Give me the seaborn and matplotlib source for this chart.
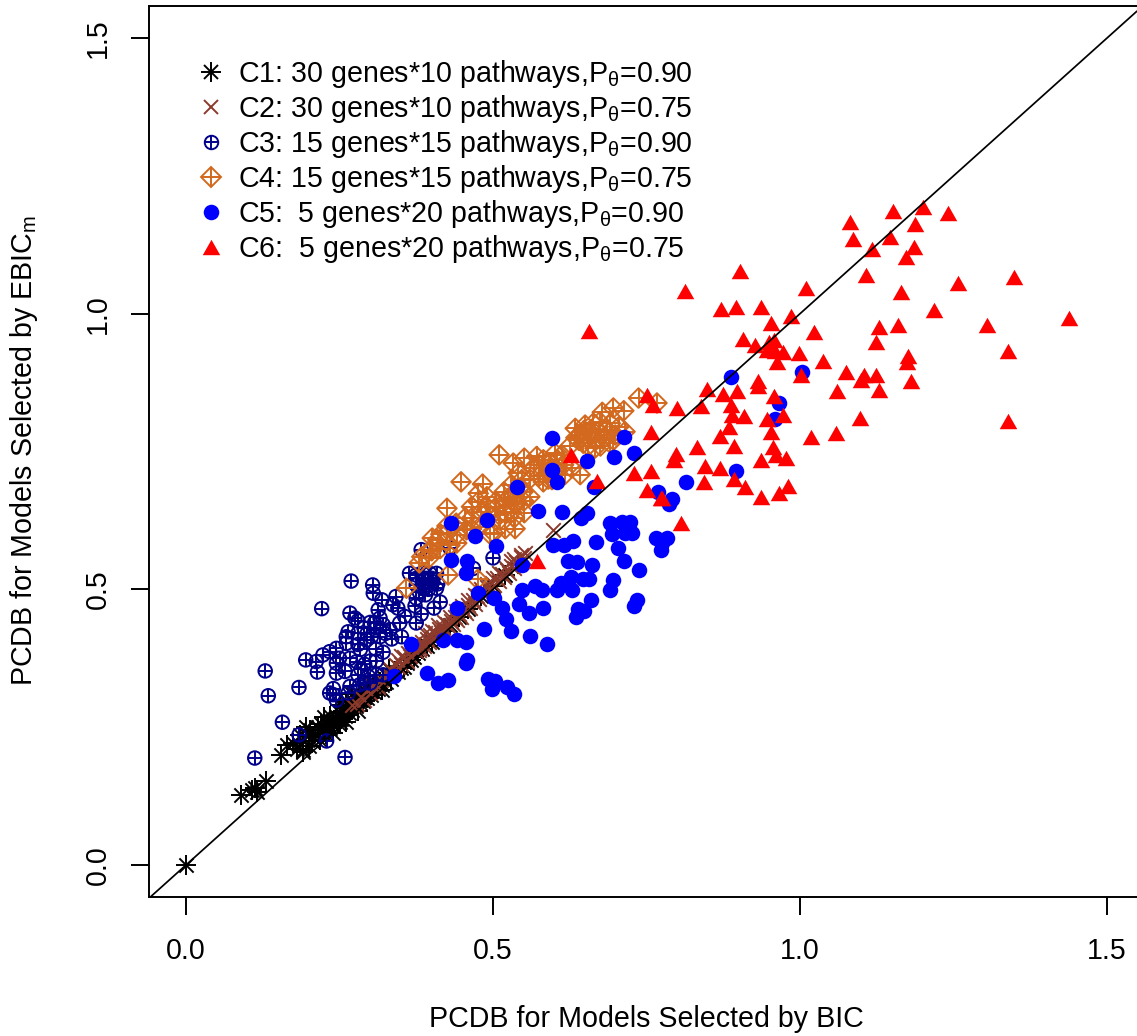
import matplotlib
matplotlib.use("Agg")
import matplotlib.pyplot as plt
import seaborn as sns
import pandas as pd
from matplotlib.lines import Line2D
from matplotlib.path import Path
from matplotlib.legend_handler import HandlerTuple

c1_points = [(0.0,0.0),(.090,.127),(.107,.136),(.115,.132),(.112,.139),(.131,.153),(.155,.200),(.164,.218),(.175,.221),(.191,.209),
(.195,.251),(.186,.236),(.207,.233),(.202,.245),(.218,.227),(.215,.251),(.224,.269),(.21,.24),(.19,.225),(.18,.21),
(.225,.245),(.228,.238),(.232,.255),(.235,.248),(.238,.262),(.241,.252),(.244,.268),(.247,.258),(.250,.275),(.253,.265),
(.256,.280),(.259,.270),(.262,.285),(.265,.275),(.268,.290),(.271,.282),(.274,.296),(.277,.288),(.280,.302),(.283,.293),
(.286,.306),(.289,.298),(.292,.312),(.295,.303),(.298,.316),(.301,.308),(.304,.322),(.307,.314),(.310,.328),(.313,.320),
(.316,.332),(.319,.326),(.322,.340),(.326,.332),(.330,.345),(.334,.338),(.340,.352),(.345,.350),(.350,.358),(.355,.360),
(.360,.366),(.366,.371),(.372,.378),(.378,.384),(.385,.392),(.392,.397),(.400,.405),(.410,.415),(.420,.425),(.430,.435),
(.445,.450),(.460,.465),(.480,.488),(.500,.506),(.520,.526),(.540,.546),(.25,.29),(.27,.31),(.235,.27),(.25,.26),
(.26,.295),(.28,.28),(.29,.315),(.30,.33),(.32,.318),(.33,.355),(.24,.24),(.26,.26),(.22,.255),(.205,.225),(.20,.215),(.19,.205)]

c2_points = [(.270,.290),(.278,.292),(.285,.305),(.290,.300),(.295,.318),(.300,.312),(.305,.325),(.312,.322),(.318,.335),(.322,.348),
(.328,.342),(.332,.355),(.337,.350),(.342,.362),(.345,.372),(.350,.365),(.355,.378),(.358,.372),(.362,.385),(.365,.380),
(.370,.392),(.374,.388),(.378,.400),(.381,.393),(.385,.405),(.388,.398),(.392,.410),(.395,.405),(.398,.418),(.402,.412),
(.405,.422),(.408,.416),(.412,.428),(.415,.422),(.418,.432),(.421,.427),(.425,.438),(.428,.432),(.432,.442),(.435,.437),
(.438,.450),(.441,.445),(.445,.456),(.448,.450),(.452,.462),(.456,.458),(.460,.472),(.463,.466),(.467,.480),(.470,.474),
(.474,.488),(.478,.482),(.482,.495),(.486,.490),(.490,.504),(.494,.499),(.498,.512),(.502,.508),(.506,.520),(.510,.515),
(.514,.528),(.518,.522),(.522,.535),(.526,.530),(.530,.543),(.534,.538),(.538,.550),(.542,.546),(.546,.558),(.551,.556),
(.53,.552),(.545,.562),(.552,.566),(.597,.608),(.33,.345),(.345,.36),(.36,.37),(.38,.39),(.40,.425),(.42,.44),
(.44,.46),(.46,.48),(.48,.50),(.50,.52),(.52,.54),(.535,.555),(.35,.38),(.37,.40),(.39,.42),(.41,.435),
(.43,.45),(.45,.47),(.47,.49),(.49,.51),(.51,.53)]

c3_points = [(.112,.194),(.259,.195),(.229,.225),(.184,.236),(.157,.259),(.134,.307),(.184,.322),(.129,.352),(.195,.372),(.214,.350),
(.212,.369),(.223,.381),(.234,.387),(.221,.465),(.269,.515),(.304,.508),(.305,.493),(.319,.481),(.342,.487),(.337,.472),
(.345,.466),(.373,.470),(.375,.484),(.414,.477),(.404,.466),(.383,.455),(.313,.463),(.267,.457),(.275,.448),(.280,.443),
(.356,.451),(.348,.439),(.375,.439),(.316,.448),(.307,.439),(.321,.436),(.332,.427),(.264,.423),(.261,.414),(.261,.402),
(.294,.408),(.302,.414),(.316,.414),(.351,.414),(.245,.393),(.284,.391),(.309,.392),(.321,.386),(.250,.375),(.267,.375),
(.245,.366),(.278,.369),(.291,.364),(.245,.348),(.259,.351),(.297,.342),(.310,.345),(.267,.324),(.283,.327),(.264,.312),
(.240,.309),(.245,.299),(.234,.312),(.321,.345),(.375,.526),(.397,.529),(.408,.529),(.383,.572),(.386,.517),(.397,.508),
(.408,.502),(.386,.502),(.375,.508),(.500,.557),(.468,.538),(.430,.575),(.402,.514),(.364,.529),(.28,.42),(.29,.43),
(.30,.44),(.31,.43),(.295,.42),(.325,.42),(.335,.41),(.28,.40),(.285,.355),(.30,.37),(.31,.37),(.28,.345),
(.29,.33),(.30,.33),(.24,.32),(.385,.51),(.39,.52),(.395,.50),(.38,.495),(.39,.49),(.40,.52),(.41,.51),
(.375,.52),(.385,.53)]

c4_points = [(.737,.847),(.767,.838),(.678,.821),(.696,.829),(.713,.824),(.634,.792),(.650,.798),(.663,.801),(.674,.804),(.691,.801),
(.642,.780),(.658,.783),(.672,.786),(.685,.789),(.699,.780),(.715,.786),(.647,.765),(.666,.756),(.691,.765),(.696,.771),
(.642,.708),(.510,.744),(.533,.729),(.551,.738),(.571,.741),(.566,.721),(.582,.735),(.601,.747),(.612,.744),(.593,.729),
(.615,.726),(.628,.720),(.617,.708),(.582,.695),(.596,.699),(.541,.711),(.547,.699),(.448,.695),(.483,.691),(.476,.674),
(.490,.668),(.476,.659),(.518,.677),(.533,.668),(.549,.677),(.560,.668),(.539,.656),(.525,.665),(.425,.647),(.503,.647),
(.520,.638),(.551,.639),(.465,.629),(.495,.632),(.511,.626),(.536,.610),(.479,.614),(.501,.602),(.457,.608),(.441,.599),
(.425,.602),(.401,.593),(.441,.584),(.414,.574),(.397,.571),(.384,.559),(.380,.548),(.395,.556),(.427,.526),(.475,.518),
(.359,.502),(.640,.770),(.655,.775),(.667,.770),(.680,.775),(.690,.785),(.705,.795),(.660,.790),(.648,.788),(.635,.775),
(.625,.760),(.655,.760),(.675,.760),(.605,.735),(.590,.715),(.605,.715),(.575,.725),(.560,.700),(.545,.685),(.530,.690),
(.520,.660),(.535,.655),(.505,.660),(.490,.650),(.510,.635),(.530,.640),(.480,.640),(.465,.650),(.455,.630),(.440,.620),
(.425,.615),(.410,.590),(.430,.580),(.400,.570),(.415,.600),(.465,.610),(.495,.600),(.520,.610),(.535,.630),(.550,.660),
(.600,.710),(.590,.700),(.575,.705)]

c5_points = [(.596,.774),(.713,.777),(.729,.747),(.697,.740),(.653,.732),(.596,.717),(.604,.695),(.665,.686),(.815,.695),(.769,.677),
(.792,.663),(.786,.655),(.539,.686),(.574,.643),(.612,.640),(.653,.639),(.644,.630),(.490,.625),(.431,.620),(.470,.597),
(.505,.578),(.431,.553),(.458,.552),(.456,.529),(.476,.494),(.441,.467),(.366,.401),(.339,.342),(.548,.544),(.598,.581),
(.615,.581),(.630,.588),(.667,.585),(.691,.620),(.710,.623),(.723,.623),(.693,.601),(.715,.602),(.726,.602),(.704,.575),
(.765,.594),(.784,.594),(.775,.584),(.774,.571),(.713,.552),(.737,.535),(.622,.552),(.637,.549),(.662,.544),(.627,.523),
(.611,.511),(.647,.518),(.657,.519),(.604,.499),(.629,.499),(.568,.506),(.580,.499),(.548,.498),(.695,.517),(.691,.499),
(.502,.485),(.515,.467),(.542,.473),(.582,.467),(.659,.481),(.734,.481),(.729,.470),(.558,.457),(.639,.464),(.648,.460),
(.635,.449),(.521,.446),(.530,.424),(.486,.428),(.560,.416),(.588,.400),(.419,.408),(.442,.409),(.456,.404),(.458,.372),
(.456,.367),(.392,.349),(.411,.331),(.427,.336),(.492,.337),(.503,.333),(.499,.319),(.522,.322),(.534,.311),(.887,.886),
(1.004,.895),(.965,.838),(.960,.809),(.896,.714)]

c6_points = [(1.151,1.187),(1.200,1.193),(1.241,1.183),(1.081,1.166),(1.188,1.163),(1.086,1.136),(1.146,1.139),(1.117,1.117),(1.186,1.121),(1.172,1.102),
(1.107,1.071),(.903,1.078),(1.349,1.066),(1.258,1.056),(1.010,1.046),(.812,1.042),(1.165,1.039),(.871,1.008),(.896,1.013),(.936,1.012),
(1.219,1.006),(.985,.996),(1.438,.993),(.953,.983),(1.129,.975),(1.159,.979),(1.304,.979),(1.023,.967),(.907,.955),(1.124,.948),
(.927,.944),(.958,.953),(.950,.948),(1.338,.933),(.946,.935),(.959,.932),(.972,.930),(.999,.928),(1.176,.923),(1.174,.913),
(.963,.913),(1.037,.914),(1.075,.894),(1.105,.889),(1.100,.880),(1.123,.888),(1.002,.889),(.931,.878),(.931,.868),(1.180,.878),
(.848,.863),(1.060,.860),(1.128,.861),(.874,.854),(.898,.860),(.957,.850),(.887,.834),(.839,.833),(.800,.829),(.890,.817),
(.909,.815),(.947,.809),(.972,.817),(1.098,.810),(1.339,.806),(.885,.795),(.952,.785),(.869,.779),(1.059,.783),(1.018,.777),
(.893,.760),(.833,.759),(.956,.759),(.798,.746),(.795,.735),(.961,.743),(.978,.739),(.936,.735),(.846,.724),(.869,.720),
(.893,.700),(.843,.694),(.910,.685),(.980,.688),(.936,.668),(.965,.674),(.776,.665),(.806,.621),(.750,.852),(.761,.835),
(.757,.785),(.627,.744),(.669,.697),(.730,.711),(.757,.715),(.751,.680),(.773,.666),(.571,.552),(.656,.968)]

legend_labels = [r"C1: 30 genes*10 pathways,P$_{\theta}$=0.90",
                 r"C2: 30 genes*10 pathways,P$_{\theta}$=0.75",
                 r"C3: 15 genes*15 pathways,P$_{\theta}$=0.90",
                 r"C4: 15 genes*15 pathways,P$_{\theta}$=0.75",
                 r"C5:  5 genes*20 pathways,P$_{\theta}$=0.90",
                 r"C6:  5 genes*20 pathways,P$_{\theta}$=0.75"]
x_label = "PCDB for Models Selected by BIC"
y_label = r"PCDB for Models Selected by EBIC$_{\mathrm{m}}$"
tick_values = [0.0, 0.5, 1.0, 1.5]

BROWN, NAVY, ORANGE, BLUE, RED = "#8B3A2B", "#00008B", "#D2691E", "#0000FF", "#FF0000"

sns.set_theme(style="ticks")
plt.rcParams["font.family"] = ["Liberation Sans", "DejaVu Sans"]
plt.rcParams["text.color"] = "black"
plt.rcParams["mathtext.fontset"] = "custom"
plt.rcParams["mathtext.rm"] = "Liberation Sans"
plt.rcParams["mathtext.it"] = "Liberation Sans"
plt.rcParams["mathtext.bf"] = "Liberation Sans"

W, H = 1137, 1036
FS = 20.6
fig = plt.figure(figsize=(W / 100, H / 100), dpi=100, facecolor="white")
ax = fig.add_axes([149 / W, (H - 897) / H, (1137 - 149) / W, (897 - 6) / H])

def frame(pts):
    return pd.DataFrame(pts, columns=["x", "y"])

LW = 1.4
tri = Path([(-1, -0.88), (1, -0.88), (0, 0.88), (-1, -0.88)], closed=True)

def lines(df, marker, s, color):
    sns.scatterplot(data=df, x="x", y="y", marker=marker, s=s, color=color, linewidth=LW, ax=ax, legend=False, zorder=3)

def hollow(df, marker, s, color):
    sns.scatterplot(data=df, x="x", y="y", marker=marker, s=s, facecolor="none", edgecolor=color, linewidth=LW, ax=ax, legend=False, zorder=3)

d1, d2, d3, d4, d5, d6 = map(frame, (c1_points, c2_points, c3_points, c4_points, c5_points, c6_points))
lines(d1, "+", 190, "black"); lines(d1, "x", 105, "black")
lines(d2, "x", 110, BROWN)
hollow(d3, "o", 95, NAVY); lines(d3, "+", 95, NAVY)
hollow(d4, "D", 100, ORANGE); lines(d4, "+", 200, ORANGE)
sns.scatterplot(data=d5, x="x", y="y", marker="o", s=125, color=BLUE, linewidth=0, ax=ax, legend=False, zorder=3)
sns.scatterplot(data=d6, x="x", y="y", marker=tri, s=160, color=RED, linewidth=0, ax=ax, legend=False, zorder=3)

ax.axline((0, 0), slope=1, color="black", lw=1.25, zorder=4)

ax.set_xlim((149 - 186) / 614, (1137 - 186) / 614)
ax.set_ylim((865 - 897) / 551.3, (865 - 6) / 551.3)
ax.set_xticks(tick_values, [f"{v:.1f}" for v in tick_values])
ax.set_yticks(tick_values, [f"{v:.1f}" for v in tick_values])
ax.tick_params(axis="both", length=13, width=LW, labelsize=FS, color="black", labelcolor="black")
ax.tick_params(axis="x", pad=16)
ax.tick_params(axis="y", pad=14)
for lab in ax.get_yticklabels():
    lab.set_rotation(90)
    lab.set_va("center")
ax.set_xlabel(x_label, fontsize=FS, color="black")
ax.set_ylabel(y_label, fontsize=FS, color="black")
ax.xaxis.set_label_coords(0.503, -(1019 - 897) / 891, transform=ax.transAxes)
ax.xaxis.label.set_va("center")
ax.yaxis.set_label_coords(-(149 - 24) / 988, (897 - 450) / 891, transform=ax.transAxes)
ax.yaxis.label.set_va("center")
for side in ax.spines:
    ax.spines[side].set_color("black")
    ax.spines[side].set_linewidth(LW)
    ax.spines[side].set_visible(side != "right")

def mk(m, color, ms, **kw):
    return Line2D([], [], linestyle="none", marker=m, color=color, markersize=ms, markeredgewidth=LW, **kw)

handles = [
    (mk("+", "black", 13.8), mk("x", "black", 10.2)),
    (mk("x", BROWN, 10.5),),
    (mk("o", NAVY, 9.7, markerfacecolor="none"), mk("+", NAVY, 9.7)),
    (mk("D", ORANGE, 10, markerfacecolor="none"), mk("+", ORANGE, 14.1)),
    (mk("o", BLUE, 11.2, markeredgecolor="none"),),
    (mk(tri, RED, 12.6, markeredgecolor="none"),),
]
ax.legend(handles, legend_labels, handler_map={tuple: HandlerTuple(ndivide=1, pad=0)},
          frameon=False, fontsize=FS, loc="upper left", bbox_to_anchor=(44.5 / 988, 1 - 52.5 / 891),
          borderaxespad=0, borderpad=0, labelspacing=0.1, handlelength=1.2, handletextpad=0.35)

fig.savefig("out.png", dpi=100, facecolor="white")
